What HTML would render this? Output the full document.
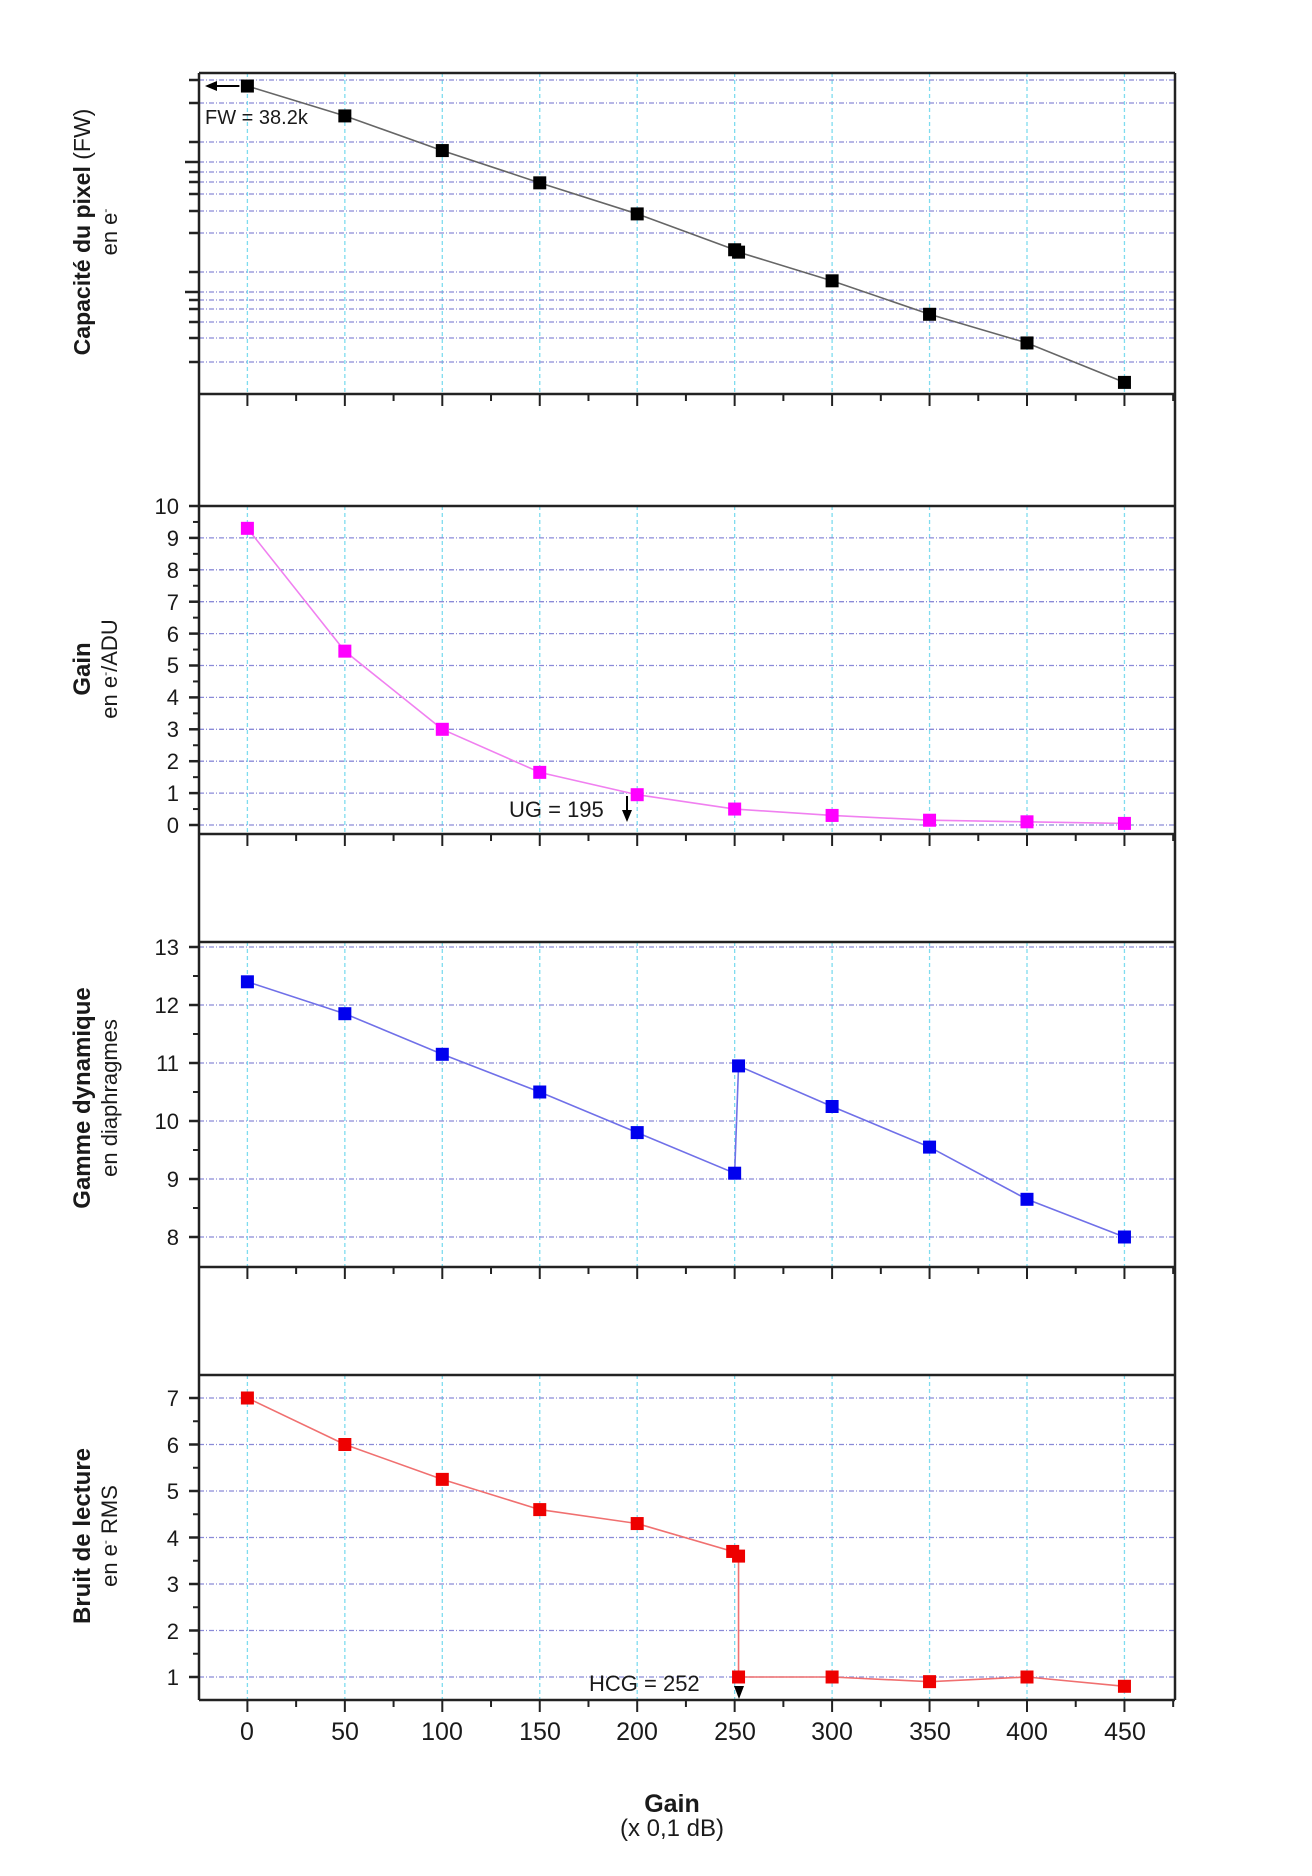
<!DOCTYPE html>
<html><head><meta charset="utf-8"><style>
body{margin:0;background:#fff}
svg{display:block}
text{font-family:"Liberation Sans",sans-serif;fill:#1a1a1a}
</style></head><body>
<svg id="s" width="1312" height="1876" viewBox="0 0 1312 1876" xmlns="http://www.w3.org/2000/svg">
<g id="g"></g>
<text transform="translate(90,232) rotate(-90)" text-anchor="middle" font-size="23"><tspan font-weight="bold">Capacité du pixel</tspan> (FW)</text>
<text transform="translate(117,232) rotate(-90)" text-anchor="middle" font-size="22">en e<tspan font-size="12" dy="-8">-</tspan></text>
<text transform="translate(90,669) rotate(-90)" text-anchor="middle" font-size="24" font-weight="bold">Gain</text>
<text transform="translate(117,669) rotate(-90)" text-anchor="middle" font-size="22">en e<tspan font-size="12" dy="-8">-</tspan><tspan dy="8">/ADU</tspan></text>
<text transform="translate(90,1098) rotate(-90)" text-anchor="middle" font-size="24" font-weight="bold">Gamme dynamique</text>
<text transform="translate(117,1098) rotate(-90)" text-anchor="middle" font-size="22">en diaphragmes</text>
<text transform="translate(90,1536) rotate(-90)" text-anchor="middle" font-size="24" font-weight="bold">Bruit de lecture</text>
<text transform="translate(117,1536) rotate(-90)" text-anchor="middle" font-size="22">en e<tspan font-size="12" dy="-8">-</tspan><tspan dy="8"> RMS</tspan></text>
<g font-size="22" text-anchor="end">
<text x="179" y="514">10</text><text x="179" y="546">9</text><text x="179" y="578">8</text><text x="179" y="610">7</text><text x="179" y="642">6</text><text x="179" y="673">5</text><text x="179" y="705">4</text><text x="179" y="737">3</text><text x="179" y="769">2</text><text x="179" y="801">1</text><text x="179" y="833">0</text>
<text x="179" y="955">13</text><text x="179" y="1013">12</text><text x="179" y="1071">11</text><text x="179" y="1129">10</text><text x="179" y="1187">9</text><text x="179" y="1245">8</text>
<text x="179" y="1406">7</text><text x="179" y="1453">6</text><text x="179" y="1499">5</text><text x="179" y="1546">4</text><text x="179" y="1592">3</text><text x="179" y="1639">2</text><text x="179" y="1685">1</text>
</g>
<g font-size="25" text-anchor="middle">
<text x="247" y="1740">0</text><text x="345" y="1740">50</text><text x="442" y="1740">100</text><text x="540" y="1740">150</text><text x="637" y="1740">200</text><text x="735" y="1740">250</text><text x="832" y="1740">300</text><text x="930" y="1740">350</text><text x="1027" y="1740">400</text><text x="1125" y="1740">450</text>
</g>
<text x="672" y="1812" text-anchor="middle" font-size="25" font-weight="bold">Gain</text>
<text x="672" y="1836" text-anchor="middle" font-size="24">(x 0,1 dB)</text>
<text x="205" y="124" font-size="20">FW = 38.2k</text>
<text x="509" y="817" font-size="22">UG = 195</text>
<text x="589" y="1691" font-size="22">HCG = 252</text>
</svg>
<script>
const g=document.getElementById('g');const NS="http://www.w3.org/2000/svg";
function el(t,a){const e=document.createElementNS(NS,t);for(const k in a)e.setAttribute(k,a[k]);g.appendChild(e);return e;}
const L=199,R=1175,X=v=>247.4+v*1.949;
const P=[{t:73,b:394},{t:506,b:834},{t:942,b:1267},{t:1375,b:1700}];
const grids=[
 [80,103,142,162,172,182,194,211,233,272,292,300,309,322,338,362],
 [...Array(11).keys()].map(i=>825-i*31.9),
 [...Array(6).keys()].map(i=>1237-i*58),
 [...Array(7).keys()].map(i=>1677-i*46.5)
];
const minors=[[],
 [...Array(10).keys()].map(i=>825-(i+0.5)*31.9),
 [...Array(5).keys()].map(i=>1237-(i+0.5)*58),
 [...Array(7).keys()].map(i=>1677-(i-0.5)*46.5).filter(y=>y<1700)
];
P.forEach((p,i)=>{
 for(let v=0;v<=450;v+=50)el('line',{x1:X(v),x2:X(v),y1:p.t,y2:p.b,stroke:'#7fdcef','stroke-width':1.3,'stroke-dasharray':'4 3'});
 grids[i].forEach((y,j)=>{el('line',{x1:L,x2:R,y1:y,y2:y,stroke:'#8a8ad8','stroke-width':1.3,'stroke-dasharray':'5 2 1 2'});
   const big=(i==0&&(y==162||y==292));el('line',{x1:big?185:189,x2:L,y1:y,y2:y,stroke:'#222','stroke-width':2.5});});
 minors[i].forEach(y=>el('line',{x1:193,x2:L,y1:y,y2:y,stroke:'#222','stroke-width':2}));
 el('line',{x1:L,x2:R,y1:p.t,y2:p.t,stroke:'#222','stroke-width':2.5});
 el('line',{x1:L,x2:R,y1:p.b,y2:p.b,stroke:'#222','stroke-width':2.5});
 for(let v=-25;v<=475;v+=25){const x=X(v);if(x<L||x>R)continue;el('line',{x1:x,x2:x,y1:p.b,y2:p.b+(v%50==0?12:7),stroke:'#222','stroke-width':2});}
});
el('line',{x1:L,x2:L,y1:73,y2:1700,stroke:'#222','stroke-width':2.5});
el('line',{x1:R,x2:R,y1:73,y2:1700,stroke:'#222','stroke-width':2.5});
function series(pts,col,line){
 el('polyline',{points:pts.map(p=>X(p[0])+','+p[1]).join(' '),fill:'none',stroke:line,'stroke-width':1.6});
 pts.forEach(p=>el('rect',{x:X(p[0])-6.5,y:p[1]-6.5,width:13,height:13,fill:col}));
}
const s=1.195;
series([[0,72],[50,97],[100,126],[150,153],[200,179],[250,209],[252,211],[300,235],[350,263],[400,287],[450,320]].map(p=>[p[0],p[1]*s]),'#000','#666');
const y2=v=>825-v*31.9;
series([[0,9.3],[50,5.45],[100,3.0],[150,1.65],[200,0.95],[250,0.5],[300,0.3],[350,0.15],[400,0.1],[450,0.05]].map(p=>[p[0],y2(p[1])]),'#ff00ff','#f080f0');
const y3=v=>1237-(v-8)*58;
series([[0,12.4],[50,11.85],[100,11.15],[150,10.5],[200,9.8],[250,9.1],[252,10.95],[300,10.25],[350,9.55],[400,8.65],[450,8.0]].map(p=>[p[0],y3(p[1])]),'#0000ee','#7070e8');
const y4=v=>1677-(v-1)*46.5;
series([[0,7.0],[50,6.0],[100,5.25],[150,4.6],[200,4.3],[249,3.7],[252,3.6],[252,1.0],[300,1.0],[350,0.9],[400,1.0],[450,0.8]].map(p=>[p[0],y4(p[1])]),'#ee0000','#f07070');
el('line',{x1:X(0)-8,x2:215,y1:86,y2:86,stroke:'#000','stroke-width':2});
el('polygon',{points:'205,86 217,81 217,91',fill:'#000'});
el('line',{x1:627,x2:627,y1:796,y2:812,stroke:'#000','stroke-width':2});
el('polygon',{points:'627,822 622,810 632,810',fill:'#000'});
el('polygon',{points:'739,1699 734,1686 744,1686',fill:'#000'});
</script>
</body></html>
